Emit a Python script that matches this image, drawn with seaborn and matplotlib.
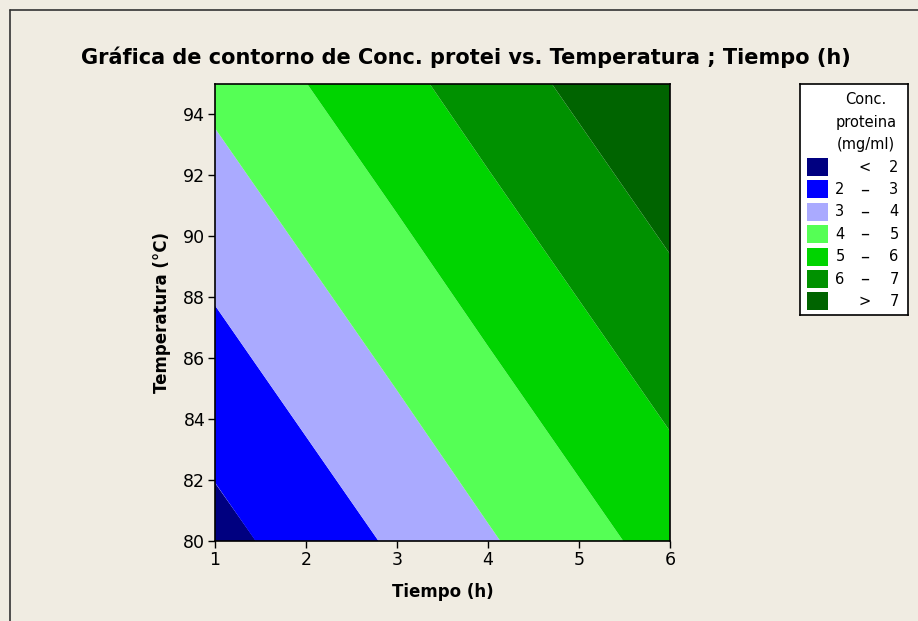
import numpy as np
import pandas as pd
import matplotlib
matplotlib.use("Agg")
import matplotlib.pyplot as plt
from matplotlib.patches import Rectangle
from matplotlib.lines import Line2D
import seaborn as sns

sns.set_style("white")
plt.rcParams['font.family'] = ['DejaVu Sans']
plt.rcParams['text.color'] = 'black'
plt.rcParams['axes.labelcolor'] = 'black'
plt.rcParams['xtick.color'] = 'black'
plt.rcParams['ytick.color'] = 'black'

# ── datos ──────────────────────────────────────────────────
tiempo      = [1, 2, 3, 4, 5, 6]
temperatura = [80, 85, 90, 95]
conc_80 = [1.67, 2.41, 3.15, 3.90, 4.64, 5.38]
conc_85 = [2.53, 3.27, 4.01, 4.76, 5.50, 6.24]
conc_90 = [3.39, 4.13, 4.87, 5.62, 6.36, 7.10]
conc_95 = [4.25, 4.99, 5.73, 6.48, 7.22, 7.95]

niveles   = [0, 2, 3, 4, 5, 6, 7, 100]
etiquetas = [("", "<", "2"), ("2", "–", "3"), ("3", "–", "4"), ("4", "–", "5"),
             ("5", "–", "6"), ("6", "–", "7"), ("", ">", "7")]
colores   = ["#000080", "#0000FF", "#AAAAFF", "#55FF55",
             "#00D400", "#009100", "#006400"]

BG = "#F0ECE2"

df = pd.DataFrame([conc_80, conc_85, conc_90, conc_95],
                  index=temperatura, columns=tiempo)

fig = plt.figure(figsize=(9.18, 6.21), dpi=100, facecolor=BG)
ax = fig.add_axes([215/918, 1 - 541/621, 455/918, 457/621])

ax.contourf(df.columns.values, df.index.values, df.values,
            levels=niveles, colors=colores, antialiased=True)
ax.set_xlim(1, 6)
ax.set_ylim(80, 95)
ax.set_xticks(tiempo)
ax.set_yticks(range(80, 95, 2))
ax.tick_params(axis="both", direction="out", length=5, width=1,
               labelsize=12.5, color="black", left=True, bottom=True, pad=2)
for s in ax.spines.values():
    s.set_color("black")
    s.set_linewidth(1.2)

ax.set_xlabel("Tiempo (h)", fontsize=12, fontweight="bold", labelpad=10)
ax.set_ylabel("Temperatura (°C)", fontsize=12, fontweight="bold", labelpad=9)
fig.text(0.508, 1 - 57/621,
         "Gráfica de contorno de Conc. protei vs. Temperatura ; Tiempo (h)",
         ha="center", va="center", fontsize=15, fontweight="bold")

# ── leyenda ───────────────────────────────────────────────
lx0, ly0, lw, lh = 800, 84, 108, 231
lg = fig.add_axes([lx0/918, 1 - (ly0 + lh)/621, lw/918, lh/621])
lg.set_xlim(lx0, lx0 + lw)
lg.set_ylim(ly0 + lh, ly0)
lg.set_xticks([])
lg.set_yticks([])
lg.set_facecolor("white")
for s in lg.spines.values():
    s.set_color("black")
    s.set_linewidth(1.2)

for i, linea in enumerate(["Conc.", "proteina", "(mg/ml)"]):
    lg.text(866, 100 + 22 * i, linea, ha="center", va="center", fontsize=10.5)
for i, (col, (a, b, c)) in enumerate(zip(colores, etiquetas)):
    yc = 167 + 22.4 * i
    lg.add_patch(Rectangle((807, yc - 9), 21, 18, facecolor=col, edgecolor="none"))
    lg.text(840, yc, a, ha="center", va="center", fontsize=10.5)
    lg.text(865, yc, b, ha="center", va="center",
            fontsize=10.5 if b in "<>" else 13)
    lg.text(894, yc, c, ha="center", va="center", fontsize=10.5)

# marco exterior (superior e izquierdo)
fig.add_artist(Line2D([10/918, 1], [1 - 10/621, 1 - 10/621], color="#333333", lw=1.2))
fig.add_artist(Line2D([10/918, 10/918], [0, 1 - 10/621], color="#333333", lw=1.2))

fig.savefig("out.png", dpi=100, facecolor=BG)
